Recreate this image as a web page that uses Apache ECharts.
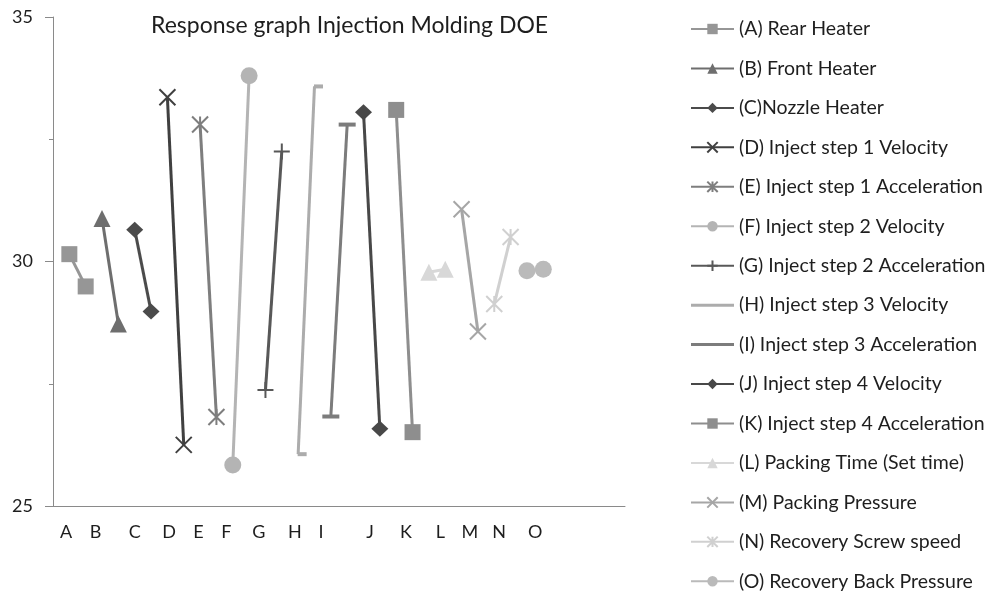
<!DOCTYPE html>
<html>
<head>
<meta charset="utf-8">
<script src="https://cdn.jsdelivr.net/npm/echarts@6/dist/echarts.min.js"></script>
<style>
  html, body { margin: 0; padding: 0; background: #ffffff; }
  #chart { width: 994px; height: 595px; }
</style>
</head>
<body>
<div id="chart"></div>
<script>
// Factor names (legend) and the response at the low / high level of each factor
const factorNames = [
  '(A) Rear Heater',
  '(B) Front Heater',
  '(C)Nozzle Heater',
  '(D) Inject step 1 Velocity',
  '(E) Inject step 1 Acceleration',
  '(F) Inject step 2 Velocity',
  '(G) Inject step 2 Acceleration',
  '(H) Inject step 3 Velocity',
  '(I) Inject step 3 Acceleration',
  '(J) Inject step 4 Velocity',
  '(K) Inject step 4 Acceleration',
  '(L) Packing Time (Set time)',
  '(M) Packing Pressure',
  '(N) Recovery Screw speed',
  '(O) Recovery Back Pressure'
];
const levelOne = [30.15, 30.88, 30.65, 33.36, 32.80, 25.84, 27.37, 26.06, 26.83, 33.05, 33.10, 29.78, 31.07, 29.13, 29.81];
const levelTwo = [29.49, 28.72, 28.98, 26.25, 26.82, 33.80, 32.25, 33.58, 32.80, 26.58, 26.51, 29.84, 28.57, 30.50, 29.84];

// Category-axis letters and the axis slot each one sits at
const factorLetters = ['A', 'B', 'C', 'D', 'E', 'F', 'G', 'H', 'I', 'J', 'K', 'L', 'M', 'N', 'O'];
const letterSlots = [0.8, 2.6, 5.0, 7.1, 8.9, 10.6, 12.6, 14.8, 16.4, 19.4, 21.6, 23.7, 25.5, 27.3, 29.5];

// Value axis ticks
const yTicks = { min: 25, max: 35, step: 5 };

// Styling per factor
const lineColors = ['#969696', '#6e6e6e', '#4b4b4b', '#404040', '#7e7e7e', '#b4b4b4', '#585858',
  '#acacac', '#7c7c7c', '#484848', '#8e8e8e', '#d8d8d8', '#a6a6a6', '#d0d0d0', '#bababa'];
const X_PATH = 'path://M0,0L10,10M10,0L0,10';
const STAR_PATH = 'path://M0,0L10,10M10,0L0,10M5,0L5,10';
const PLUS_PATH = 'path://M5,0L5,10M0,5L10,5';
const BAR_ICON = 'path://M0,0L43,0L43,3L0,3Z';
const markers = [
  { symbol: 'rect', size: 16 },
  { symbol: 'triangle', size: 17 },
  { symbol: 'diamond', size: [17, 16] },
  { symbol: X_PATH, size: 16, stroke: true },
  { symbol: STAR_PATH, size: 16, stroke: true },
  { symbol: 'circle', size: 17 },
  { symbol: PLUS_PATH, size: 16, stroke: true },
  { symbol: 'rect', size: [9, 4], offset: [4, 0], plainLegend: true },
  { symbol: 'rect', size: [17, 4], plainLegend: true },
  { symbol: 'diamond', size: [17, 16] },
  { symbol: 'rect', size: 16 },
  { symbol: 'triangle', size: 17 },
  { symbol: X_PATH, size: 16, stroke: true },
  { symbol: STAR_PATH, size: 16, stroke: true },
  { symbol: 'circle', size: 17 }
];

const FONT = 'Lato';
const TEXT = '#1e1e1e';
const AXIS = '#8a8a8a';

const slotLabel = {};
factorLetters.forEach((l, i) => { slotLabel[Math.round(letterSlots[i] * 10)] = l; });

const series = factorNames.map((name, i) => {
  const m = markers[i];
  const c = lineColors[i];
  return {
    name: name,
    type: 'line',
    xAxisIndex: 0,
    data: [[2 * i + 1, levelOne[i]], [2 * i + 2, levelTwo[i]]],
    symbol: m.symbol,
    symbolSize: m.size,
    symbolOffset: m.offset || [0, 0],
    showAllSymbol: true,
    lineStyle: { color: c, width: 3 },
    itemStyle: m.stroke
      ? { color: c, borderColor: c, borderWidth: 2 }
      : { color: c, borderWidth: 0 },
    emphasis: { disabled: true },
    z: 2
  };
});

// Dash-marker series show just their line in the legend
const legendItems = factorNames.map((name, i) =>
  markers[i].plainLegend ? { name: name, icon: BAR_ICON } : { name: name });

const chart = echarts.init(document.getElementById('chart'), null, { renderer: 'canvas' });
chart.setOption({
  animation: false,
  backgroundColor: '#ffffff',
  title: {
    text: 'Response graph Injection Molding DOE',
    left: 151,
    top: 14,
    padding: 0,
    textStyle: { fontFamily: FONT, fontSize: 23, fontWeight: 'normal', color: TEXT }
  },
  legend: {
    orient: 'vertical',
    left: 690,
    top: 19,
    padding: 0,
    itemWidth: 43,
    itemHeight: 13,
    itemGap: 19.45,
    selectedMode: false,
    textStyle: { fontFamily: FONT, fontSize: 19.5, color: TEXT },
    data: legendItems
  },
  grid: { left: 53, top: 17, width: 572, height: 489, containLabel: false },
  xAxis: [
    {
      type: 'value',
      min: 0,
      max: 35,
      axisLine: { show: true, lineStyle: { color: AXIS, width: 1 } },
      axisTick: { show: false },
      axisLabel: { show: false },
      splitLine: { show: false }
    },
    {
      type: 'value',
      min: 0,
      max: 35,
      interval: 0.1,
      position: 'bottom',
      axisLine: { show: false },
      axisTick: { show: false },
      splitLine: { show: false },
      axisLabel: {
        show: true,
        margin: 17,
        fontFamily: FONT,
        fontSize: 18,
        color: TEXT,
        formatter: (v) => slotLabel[Math.round(v * 10)] || ''
      }
    }
  ],
  yAxis: {
    type: 'value',
    min: yTicks.min,
    max: yTicks.max,
    interval: yTicks.step,
    axisLine: { show: true, lineStyle: { color: AXIS, width: 1 } },
    axisTick: { show: true, length: 8, lineStyle: { color: AXIS } },
    minorTick: { show: true, splitNumber: 2, length: 4, lineStyle: { color: AXIS } },
    splitLine: { show: false },
    axisLabel: { margin: 20, fontFamily: FONT, fontSize: 18, color: TEXT }
  },
  series: series
});
</script>
</body>
</html>
